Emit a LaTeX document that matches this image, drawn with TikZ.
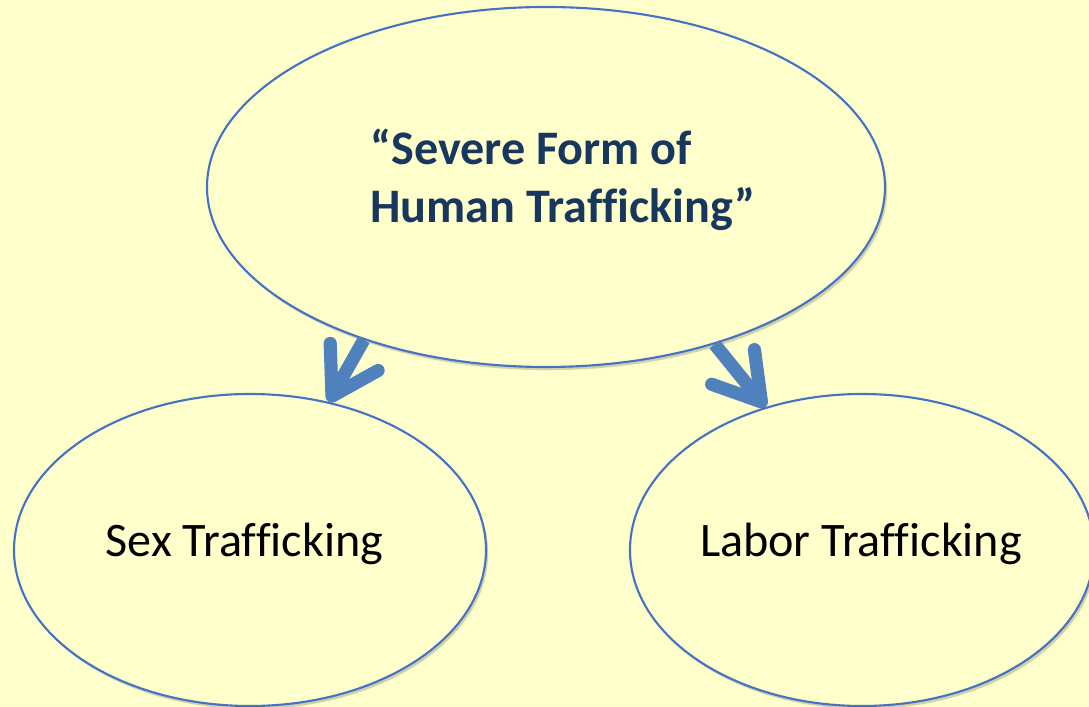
\documentclass[tikz,border=0pt]{standalone}
\usepackage{fontspec}
\setmainfont{Carlito}[Ligatures = CommonOff]
\usetikzlibrary{shapes.geometric, arrows.meta, shadows}
\definecolor{paleyellow}{RGB}{255,255,204}
\definecolor{ringblue}{RGB}{68,114,196}
\definecolor{arrowblue}{RGB}{79,129,189}
\definecolor{titlenavy}{RGB}{23,55,94}
\tikzset{
  oval/.style = {ellipse, draw = ringblue, line width = 1.2pt, fill = paleyellow, inner sep = 0pt,
                 drop shadow = {shadow xshift = 1.2pt, shadow yshift = -1.8pt, fill = black!25!paleyellow, opacity = 0.7}},
  fatarrow/.style = {-{Straight Barb[length = 0.9cm, width = 1.1cm, round]}, line width = 7.5pt, arrowblue},
  ovaltext/.style = {inner sep = 0pt, font = \fontsize{27.4}{33}\selectfont}
}

\begin{document}
\begin{tikzpicture}
                        \fill[paleyellow] (0, 0) rectangle (21.78, 14.14);
                        \useasboundingbox (0, 0) rectangle (21.78, 14.14);
                        \clip (0, 0) rectangle (21.78, 14.14);
                        \node [oval, minimum width = 13.56cm, minimum height = 7.2cm] (severe) at (10.92, 10.40) {};
                        \node [oval, minimum width = 9.44cm, minimum height = 6.24cm] (sex) at (5.00, 3.14) {};
                        \node [oval, minimum width = 9.28cm, minimum height = 6.24cm] (labor) at (17.24, 3.14) {};
                        \node [ovaltext, anchor = north west, align = left, text = titlenavy, font = \bfseries\fontsize{27.4}{33}\selectfont] (severetext) at (7.40, 11.56) {``Severe Form of\\Human Trafficking''};
                        \node [ovaltext, anchor = base] (sextext) at (4.89, 3.00) {Sex Trafficking};
                        \node [ovaltext, anchor = base] (labortext) at (17.22, 3.00) {Labor Trafficking};
                        \draw [fatarrow] (severe.220) -- (sex.62);
                        \draw [fatarrow] (severe.317) -- (labor.124);
                  \end{tikzpicture}
\end{document}
